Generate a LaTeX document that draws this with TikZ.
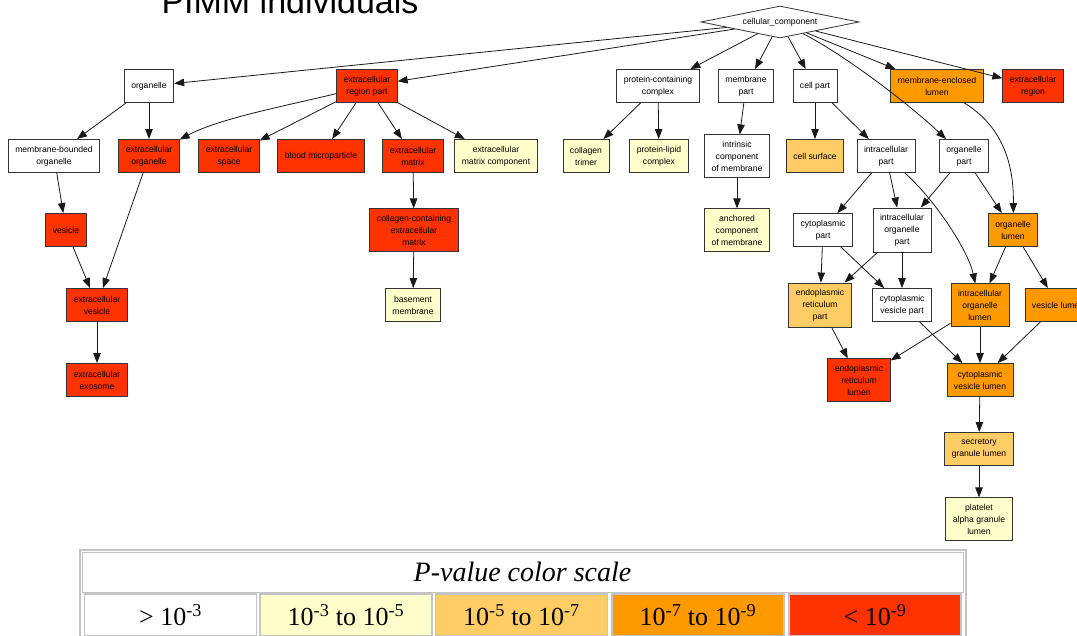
\documentclass[tikz,border=0pt]{standalone}
\usepackage{fontspec}
\setmainfont{Liberation Sans}
\newfontfamily\legendserif{Liberation Serif}
\usepackage{tikz}
\usetikzlibrary{arrows.meta,shapes.geometric}
\definecolor{cNone}{HTML}{FFFFFF}
\definecolor{cLow}{HTML}{FFFFCC}
\definecolor{cMid}{HTML}{FFCC66}
\definecolor{cHigh}{HTML}{FF9900}
\definecolor{cTop}{HTML}{FF3300}
\definecolor{cFrame}{HTML}{C4C4C4}
\tikzset{
  term/.style={draw=black!80, line width=0.9pt, fill=#1, text=black, align=center,
               font=\fontsize{8.6}{12}\selectfont, inner xsep=7pt, inner ysep=6pt, minimum height=33pt},
  term/.default=cNone,
  edge/.style={-{Triangle[length=10pt,width=7.5pt]}, line width=0.8pt, draw=black!90},
  cell/.style={draw=cFrame, line width=1.4pt, fill=#1, inner sep=0pt, minimum width=172pt,
               minimum height=42pt, font=\legendserif\fontsize{26}{28}\selectfont},
}

\begin{document}
\begin{tikzpicture}[x=1pt, y=-1pt]
  \useasboundingbox (0,0) rectangle (1077,635);
  \node[anchor=base, font=\fontsize{34}{40}\selectfont] (ttl) at (290,13) {PIMM individuals};

  \node[draw=black!80, line width=0.8pt, fill=white, diamond, aspect=5, inner sep=0pt,
        minimum width=158pt, minimum height=32pt, font=\fontsize{8.6}{12}\selectfont] (cc) at (780,22) {cellular\_component};

  \node[term] (org) at (149,86) {organelle};
  \node[term=cTop] (xrp) at (367,86) {extracellular\\region part};
  \node[term] (pcc) at (658,86) {protein-containing\\complex};
  \node[term] (mbp) at (746,86) {membrane\\part};
  \node[term] (clp) at (815,86) {cell part};
  \node[term=cHigh] (mel) at (937,86) {membrane-enclosed\\lumen};
  \node[term=cTop] (exr) at (1033,86) {extracellular\\region};

  \node[term] (mbo) at (54,156) {membrane-bounded\\organelle};
  \node[term=cTop] (exo) at (149,156) {extracellular\\organelle};
  \node[term=cTop] (exs) at (229,156) {extracellular\\space};
  \node[term=cTop] (bmp) at (321,156) {blood microparticle};
  \node[term=cTop] (ecm) at (413,156) {extracellular\\matrix};
  \node[term=cLow] (ecc) at (496,156) {extracellular\\matrix component};
  \node[term=cLow] (ctr) at (586,156) {collagen\\trimer};
  \node[term=cLow] (plc) at (659,156) {protein-lipid\\complex};
  \node[term] (icm) at (737,156) {intrinsic\\component\\of membrane};
  \node[term=cMid] (csf) at (815,156) {cell surface};
  \node[term] (icp) at (886,156) {intracellular\\part};
  \node[term] (ogp) at (964,156) {organelle\\part};

  \node[term=cTop] (ves) at (66,230) {vesicle};
  \node[term=cTop] (cce) at (414,230) {collagen-containing\\extracellular\\matrix};
  \node[term=cLow] (acm) at (737,230) {anchored\\component\\of membrane};
  \node[term] (ctp) at (823,230) {cytoplasmic\\part};
  \node[term] (iop) at (902,230) {intracellular\\organelle\\part};
  \node[term=cHigh] (ogl) at (1013,230) {organelle\\lumen};

  \node[term=cTop] (exv) at (97,305) {extracellular\\vesicle};
  \node[term=cLow] (bsm) at (413,305) {basement\\membrane};
  \node[term=cMid] (enp) at (820,305) {endoplasmic\\reticulum\\part};
  \node[term] (cvp) at (902,305) {cytoplasmic\\vesicle part};
  \node[term=cHigh] (iol) at (980,305) {intracellular\\organelle\\lumen};
  \node[term=cHigh] (vsl) at (1058,305) {vesicle lumen};

  \node[term=cTop] (exm) at (97,380) {extracellular\\exosome};
  \node[term=cTop] (enl) at (859,380) {endoplasmic\\reticulum\\lumen};
  \node[term=cHigh] (cvl) at (980,380) {cytoplasmic\\vesicle lumen};
  \node[term=cMid] (sgl) at (979,449) {secretory\\granule lumen};
  \node[term=cLow] (pgl) at (979,519) {platelet\\alpha granule\\lumen};

  \draw[edge] (cc)--(org); \draw[edge] (cc)--(xrp); \draw[edge] (cc)--(pcc); \draw[edge] (cc)--(mbp);
  \draw[edge] (cc)--(clp); \draw[edge] (cc)--(mel); \draw[edge] (cc)--(exr);
  \draw[edge] (cc) .. controls (845,55) and (910,105) .. (ogp);
  \draw[edge] (org)--(mbo); \draw[edge] (org)--(exo);
  \draw[edge] (xrp) .. controls (290,105) and (220,118) .. (exo);
  \draw[edge] (xrp)--(exs); \draw[edge] (xrp)--(bmp); \draw[edge] (xrp)--(ecm); \draw[edge] (xrp)--(ecc);
  \draw[edge] (pcc)--(ctr); \draw[edge] (pcc)--(plc); \draw[edge] (mbp)--(icm);
  \draw[edge] (clp)--(csf); \draw[edge] (clp)--(icp);
  \draw[edge] (mel) .. controls (1000,125) and (1014,160) .. (ogl);
  \draw[edge] (mbo)--(ves); \draw[edge] (exo)--(exv); \draw[edge] (ves)--(exv); \draw[edge] (exv)--(exm);
  \draw[edge] (ecm)--(cce); \draw[edge] (cce)--(bsm); \draw[edge] (icm)--(acm);
  \draw[edge] (icp)--(ctp); \draw[edge] (icp)--(iop);
  \draw[edge] (icp) .. controls (935,200) and (968,250) .. (iol);
  \draw[edge] (ogp)--(iop); \draw[edge] (ogp)--(ogl);
  \draw[edge] (ctp)--(enp); \draw[edge] (ctp)--(cvp); \draw[edge] (iop)--(enp); \draw[edge] (iop)--(cvp);
  \draw[edge] (ogl)--(iol); \draw[edge] (ogl)--(vsl);
  \draw[edge] (enp)--(enl); \draw[edge] (iol)--(enl); \draw[edge] (iol)--(cvl);
  \draw[edge] (cvp)--(cvl); \draw[edge] (vsl)--(cvl);
  \draw[edge] (cvl)--(sgl); \draw[edge] (sgl)--(pgl);

  % p-value legend
  \draw[draw=cFrame, line width=2pt, fill=white] (80,550) rectangle (966,645);
  \node[draw=cFrame, line width=1pt, minimum width=881pt, minimum height=40pt,
        font=\legendserif\itshape\fontsize{28}{32}\selectfont] (scl) at (522.5,572) {P-value color scale};
  \node[cell=cNone] (p1) at (170.5,615) {> 10\textsuperscript{-3}};
  \node[cell=cLow] (p2) at (346,615) {10\textsuperscript{-3} to 10\textsuperscript{-5}};
  \node[cell=cMid] (p3) at (521.5,615) {10\textsuperscript{-5} to 10\textsuperscript{-7}};
  \node[cell=cHigh] (p4) at (698,615) {10\textsuperscript{-7} to 10\textsuperscript{-9}};
  \node[cell=cTop] (p5) at (875,615) {< 10\textsuperscript{-9}};
\end{tikzpicture}
\end{document}
